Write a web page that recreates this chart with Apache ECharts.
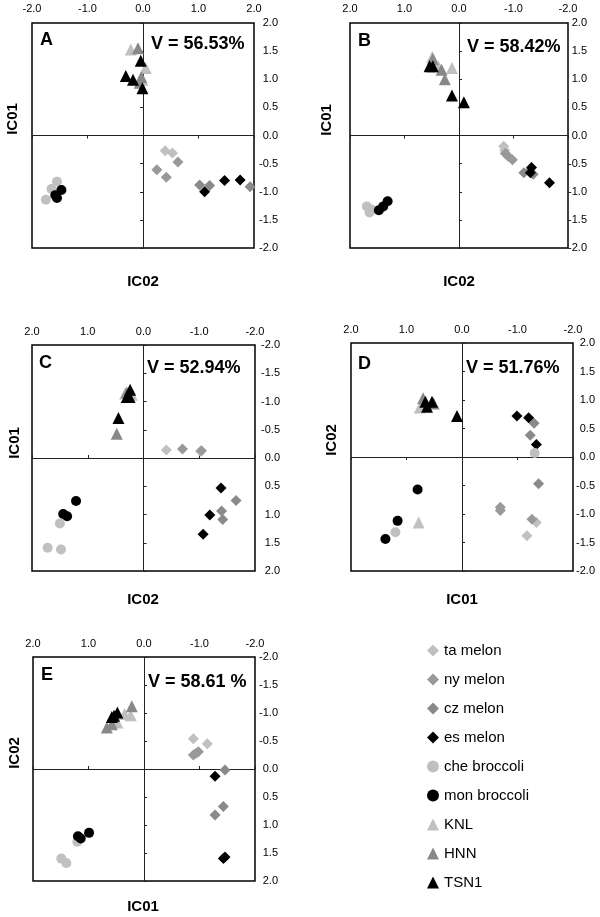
<!DOCTYPE html>
<html><head><meta charset="utf-8">
<script src="https://cdn.jsdelivr.net/npm/echarts@6/dist/echarts.min.js"></script>
<style>html,body{margin:0;padding:0;background:#fff}#c{width:600px;height:917px}</style>
</head><body><div id="c"></div>
<script>
// ---------- data ----------
const panelLetters = ['A','B','C','D','E'];
const varianceLabels = ['V = 56.53%','V = 58.42%','V = 52.94%','V = 51.76%','V = 58.61 %'];
const yTitles = ['IC01','IC01','IC01','IC02','IC02'];
const xTitles = ['IC02','IC02','IC02','IC01','IC01'];
const seriesNames = ['ta melon','ny melon','cz melon','es melon','che broccoli','mon broccoli','KNL','HNN','TSN1'];

// each list: points for panels A, B, C, D, E  ([x, y])
const taMelon = [
  [[0.40,-0.27],[0.53,-0.31]],
  [[-0.82,-0.19],[-0.84,-0.26]],
  [[-0.41,-0.14],[-1.02,-0.12]],
  [[-1.34,-1.15],[-1.17,-1.38]],
  [[-0.89,-0.54],[-1.14,-0.45]]
];
const nyMelon = [
  [[0.25,-0.61],[0.42,-0.74],[0.63,-0.47]],
  [[-0.85,-0.32],[-0.90,-0.37],[-0.98,-0.43]],
  [[-0.70,-0.16],[-1.04,-0.13]],
  [[-0.69,-0.88],[-0.69,-0.94],[-1.26,-1.09]],
  [[-0.89,-0.25],[-0.98,-0.31],[-0.94,-0.28]]
];
const czMelon = [
  [[1.02,-0.88],[1.20,-0.89],[1.93,-0.91]],
  [[-1.19,-0.66],[-1.36,-0.69],[-1.30,-0.62]],
  [[-1.66,0.75],[-1.40,0.94],[-1.42,1.09]],
  [[-1.30,0.59],[-1.23,0.38],[-1.38,-0.47]],
  [[-1.46,0.02],[-1.43,0.67],[-1.28,0.82]]
];
const esMelon = [
  [[1.11,-1.00],[1.47,-0.80],[1.75,-0.79]],
  [[-1.33,-0.57],[-1.31,-0.66],[-1.66,-0.84]],
  [[-1.39,0.53],[-1.19,1.01],[-1.07,1.35]],
  [[-0.99,0.72],[-1.20,0.69],[-1.34,0.22]],
  [[-1.28,0.13],[-1.43,1.60],[-1.46,1.57]]
];
const cheBroccoli = [
  [[-1.55,-0.82],[-1.65,-0.95],[-1.75,-1.14]],
  [[1.69,-1.26],[1.64,-1.37],[1.60,-1.32]],
  [[1.50,1.16],[1.72,1.59],[1.48,1.62]],
  [[-1.31,0.07],[1.20,-1.32]],
  [[1.20,1.30],[1.49,1.60],[1.40,1.68]]
];
const monBroccoli = [
  [[-1.47,-0.97],[-1.55,-1.11],[-1.58,-1.06]],
  [[1.31,-1.17],[1.39,-1.26],[1.47,-1.33]],
  [[1.21,0.76],[1.44,0.99],[1.37,1.03]],
  [[0.80,-0.57],[1.16,-1.12],[1.38,-1.44]],
  [[1.19,1.20],[1.14,1.24],[0.99,1.14]]
];
const KNL = [
  [[-0.22,1.53],[0.05,1.20],[-0.01,0.99]],
  [[0.49,1.40],[0.38,1.23],[0.13,1.20]],
  [[0.21,-1.12],[0.33,-1.14]],
  [[0.76,0.87],[0.78,-1.15]],
  [[0.24,-0.96],[0.35,-0.98],[0.48,-0.83]]
];
const HNN = [
  [[-0.09,1.55],[-0.03,1.04],[-0.06,0.94]],
  [[0.48,1.36],[0.32,1.17],[0.26,1.00]],
  [[0.30,-1.16],[0.48,-0.43]],
  [[0.70,1.03],[0.51,0.94]],
  [[0.22,-1.12],[0.67,-0.74],[0.58,-0.80]]
];
const TSN1 = [
  [[-0.04,1.33],[-0.31,1.06],[-0.18,0.99],[-0.01,0.84]],
  [[0.54,1.23],[0.48,1.23],[0.13,0.71],[-0.09,0.59]],
  [[0.24,-1.21],[0.30,-1.08],[0.25,-1.08],[0.45,-0.71]],
  [[0.66,0.97],[0.63,0.88],[0.54,0.97],[0.09,0.72]],
  [[0.58,-0.93],[0.48,-1.01],[0.54,-0.95]]
];
const seriesData = [taMelon, nyMelon, czMelon, esMelon, cheBroccoli, monBroccoli, KNL, HNN, TSN1];

// ---------- styling / layout ----------
const FONT = 'Liberation Sans, Arial, Helvetica, sans-serif';
const symbols = ['diamond','diamond','diamond','diamond','circle','circle','triangle','triangle','triangle'];
const colors = ['#c0c0c0','#999999','#8a8a8a','#000000','#c0c0c0','#000000','#c0c0c0','#888888','#000000'];
const sizes = [11,11,11,11,10,10,12,12,12];

const layout = [
  {left:32, top:23, width:222, height:225, xInv:false, yInv:false, topMargin:9, rightMargin:24, xTickIn:false, yTickIn:false,
   letter:[40,40], v:[151,44], yT:[13,119], xT:[143,282]},
  {left:350, top:23, width:218, height:225, xInv:true, yInv:false, topMargin:9, rightMargin:19, xTickIn:false, yTickIn:true,
   letter:[358,41], v:[467,47], yT:[327,120], xT:[459,282]},
  {left:32, top:345, width:223, height:226, xInv:true, yInv:true, topMargin:8, rightMargin:25, xTickIn:true, yTickIn:true,
   letter:[39,363], v:[147,368], yT:[15,443], xT:[143,600]},
  {left:351, top:343, width:222, height:228, xInv:true, yInv:false, topMargin:8, rightMargin:22, xTickIn:false, yTickIn:true,
   letter:[358,364], v:[466,368], yT:[332,440], xT:[462,600]},
  {left:33, top:657, width:222, height:224, xInv:true, yInv:true, topMargin:8, rightMargin:23, xTickIn:true, yTickIn:true,
   letter:[41,675], v:[148,682], yT:[15,753], xT:[143,907]}
];

const grids = [], xAxes = [], yAxes = [], series = [], graphics = [];
const fmt = v => Math.abs(v) < 1e-9 ? '0.0' : v.toFixed(1);

layout.forEach((p, i) => {
  grids.push({left:p.left, top:p.top, width:p.width, height:p.height, show:true,
    borderColor:'#000', borderWidth:1.5, backgroundColor:'transparent', containLabel:false});
  // labelled axes on the box (top / right)
  xAxes.push({gridIndex:i, type:'value', min:-2, max:2, interval:1, inverse:p.xInv, position:'top',
    axisLine:{show:false, onZero:false}, axisTick:{show:false}, splitLine:{show:false},
    axisLabel:{formatter:fmt, fontFamily:FONT, fontSize:11, color:'#000', margin:p.topMargin}});
  // centre crosshair axes
  xAxes.push({gridIndex:i, type:'value', min:-2, max:2, interval:1, inverse:p.xInv, position:'bottom',
    axisLine:{show:true, onZero:true, onZeroAxisIndex:2*i+1, lineStyle:{color:'#222', width:1}},
    axisTick:{show:true, length:3, inside:p.xTickIn, lineStyle:{color:'#222', width:1}},
    axisLabel:{show:false}, splitLine:{show:false}});
  yAxes.push({gridIndex:i, type:'value', min:-2, max:2, interval:0.5, inverse:p.yInv, position:'right',
    axisLine:{show:false, onZero:false}, axisTick:{show:false}, splitLine:{show:false},
    axisLabel:{formatter:fmt, fontFamily:FONT, fontSize:11, color:'#000', margin:p.rightMargin, align:'right'}});
  yAxes.push({gridIndex:i, type:'value', min:-2, max:2, interval:0.5, inverse:p.yInv, position:'left',
    axisLine:{show:true, onZero:true, onZeroAxisIndex:2*i+1, lineStyle:{color:'#222', width:1}},
    axisTick:{show:true, length:3, inside:p.yTickIn, lineStyle:{color:'#222', width:1}},
    axisLabel:{show:false}, splitLine:{show:false}});

  seriesNames.forEach((name, s) => {
    series.push({type:'scatter', name:name, xAxisIndex:2*i, yAxisIndex:2*i,
      symbol:symbols[s], symbolSize:sizes[s], itemStyle:{color:colors[s], opacity:1},
      data:seriesData[s][i], z:2+s, silent:true});
  });

  graphics.push({type:'text', x:p.letter[0], y:p.letter[1],
    style:{text:panelLetters[i], font:'bold 18px '+FONT, fill:'#000', textAlign:'left', textVerticalAlign:'middle'}});
  graphics.push({type:'text', x:p.v[0], y:p.v[1],
    style:{text:varianceLabels[i], font:'bold 18px '+FONT, fill:'#000', textAlign:'left', textVerticalAlign:'middle'}});
  graphics.push({type:'text', x:p.yT[0], y:p.yT[1], rotation:Math.PI/2,
    style:{text:yTitles[i], font:'bold 15px '+FONT, fill:'#000', textAlign:'center', textVerticalAlign:'middle'}});
  graphics.push({type:'text', x:p.xT[0], y:p.xT[1],
    style:{text:xTitles[i], font:'bold 15px '+FONT, fill:'#000', textAlign:'center', textVerticalAlign:'middle'}});
});

const chart = echarts.init(document.getElementById('c'), null, {renderer:'canvas'});
chart.setOption({
  animation:false,
  backgroundColor:'#fff',
  grid:grids, xAxis:xAxes, yAxis:yAxes, series:series,
  graphic:graphics,
  legend:{orient:'vertical', left:422, top:638, itemWidth:12, itemHeight:12, itemGap:14, selectedMode:false,
    textStyle:{fontFamily:FONT, fontSize:15, color:'#000', lineHeight:15},
    data:seriesNames.map((n, s) => ({name:n, icon:symbols[s], itemStyle:{color:colors[s]}}))}
});
</script></body></html>
